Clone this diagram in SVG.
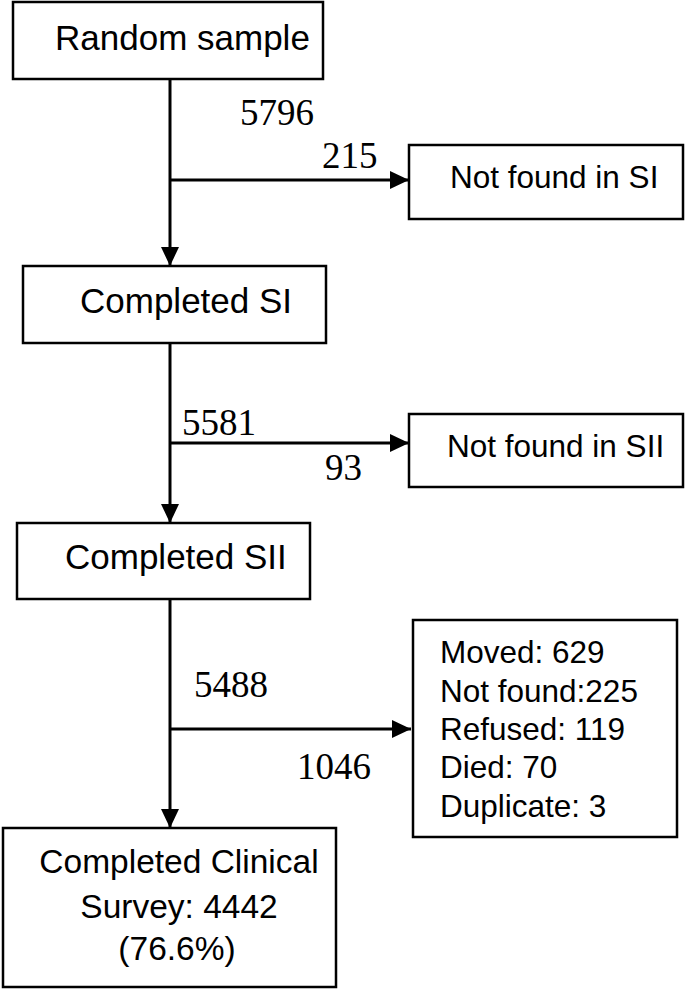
<svg xmlns="http://www.w3.org/2000/svg" width="685" height="989" viewBox="0 0 685 989">
<style>
.box{fill:#fff;stroke:#000;stroke-width:2.5}
.lbl{font-family:"Liberation Sans",Arial,sans-serif;fill:#000}
.big{font-size:35px}
.mid{font-size:31.5px}
.num{font-family:"Liberation Serif","Times New Roman",serif;font-size:37px;fill:#000}
.ln{stroke:#000;stroke-width:3;fill:none}
</style>
<defs>
<marker id="ah" markerUnits="userSpaceOnUse" markerWidth="20" markerHeight="20" refX="19" refY="9" orient="auto">
<path d="M0,0 L19,9 L0,18 Z" fill="#000"/>
</marker>
</defs>
<rect width="685" height="989" fill="#fff"/>
<g id="connectors">
<line class="ln" x1="170" y1="79" x2="170" y2="266" marker-end="url(#ah)"/>
<line class="ln" x1="170" y1="180" x2="409" y2="180" marker-end="url(#ah)"/>
<line class="ln" x1="170" y1="343" x2="170" y2="523" marker-end="url(#ah)"/>
<line class="ln" x1="170" y1="443" x2="409" y2="443" marker-end="url(#ah)"/>
<line class="ln" x1="170" y1="599" x2="170" y2="828" marker-end="url(#ah)"/>
<line class="ln" x1="170" y1="729" x2="411" y2="729" marker-end="url(#ah)"/>
<text class="num" x="240" y="125">5796</text>
<text class="num" x="322" y="168">215</text>
<text class="num" x="182" y="435">5581</text>
<text class="num" x="325" y="480">93</text>
<text class="num" x="194" y="697">5488</text>
<text class="num" x="297" y="779">1046</text>
</g>
<g id="random-sample">
<rect class="box" x="13" y="2" width="310" height="77"/>
<text class="lbl big" x="55" y="50">Random sample</text>
</g>
<g id="not-found-si">
<rect class="box" x="409" y="145" width="274" height="74"/>
<text class="lbl mid" x="450" y="188">Not found in SI</text>
</g>
<g id="completed-si">
<rect class="box" x="23" y="266" width="303" height="77"/>
<text class="lbl big" x="80" y="313">Completed SI</text>
</g>
<g id="not-found-sii">
<rect class="box" x="409" y="414" width="274" height="73"/>
<text class="lbl mid" x="447" y="457">Not found in SII</text>
</g>
<g id="completed-sii">
<rect class="box" x="17" y="523" width="293" height="76"/>
<text class="lbl big" x="65" y="569">Completed SII</text>
</g>
<g id="losses">
<rect class="box" x="413" y="620" width="264" height="217"/>
<text class="lbl mid" x="440" y="663">Moved: 629</text>
<text class="lbl mid" x="440" y="702">Not found:225</text>
<text class="lbl mid" x="440" y="740">Refused: 119</text>
<text class="lbl mid" x="440" y="778">Died: 70</text>
<text class="lbl mid" x="440" y="817">Duplicate: 3</text>
</g>
<g id="completed-clinical">
<rect class="box" x="3" y="828" width="333" height="159"/>
<text class="lbl" font-size="33.5" text-anchor="middle" x="179" y="873">Completed Clinical</text>
<text class="lbl" font-size="33.5" text-anchor="middle" x="179" y="918">Survey: 4442</text>
<text class="lbl" font-size="33.5" text-anchor="middle" x="177" y="960">(76.6%)</text>
</g>
</svg>
